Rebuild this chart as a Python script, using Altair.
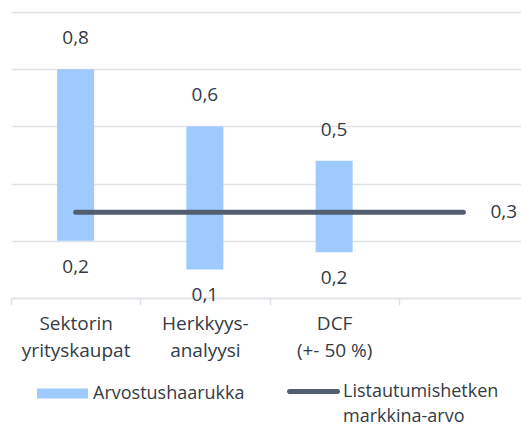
import altair as alt
import pandas as pd

categories = ["Sektorin\nyrityskaupat", "Herkkyys-\nanalyysi", "DCF\n(+- 50 %)", " "]
range_low = [0.2, 0.1, 0.16]
range_high = [0.8, 0.6, 0.48]
market_value = [0.3, 0.3, 0.3, 0.3]
bar_series = "Arvostushaarukka"
line_series = "Listautumishetken\nmarkkina-arvo"
y_ticks = [0, 0.2, 0.4, 0.6, 0.8, 1.0]

FONT = "Open Sans"
FS = 19
LFS = 18
TEXT = "#343b45"
BLUE = "#9ecaff"
SLATE = "#535f71"
GRID = "#dfe3e8"


def fi(v):
    return f"{v:.1f}".replace(".", ",")


bars = pd.DataFrame({"cat": categories[:3], "low": range_low, "high": range_high, "series": bar_series})
bars["low_label"] = bars["low"].map(fi)
bars["high_label"] = bars["high"].map(fi)
line = pd.DataFrame({"cat": categories, "value": market_value, "series": line_series})
line_end = line.iloc[[-1]].copy()
line_end["label"] = line_end["value"].map(fi)

x = alt.X(
    "cat:N",
    sort=categories,
    scale=alt.Scale(domain=categories, paddingInner=0, paddingOuter=0),
    axis=alt.Axis(
        title=None, labelAngle=0, tickBand="extent", grid=False,
        domainColor=GRID, domainWidth=1.5, tickColor=GRID, tickWidth=1.5, tickSize=7,
        labelFont=FONT, labelFontSize=FS, labelColor=TEXT, labelLineHeight=27,
        labelPadding=9, labelBaseline="top",
        labelExpr="split(datum.label, '\\n')",
    ),
)
y_scale = alt.Scale(domain=[0, 1])
y_axis = alt.Axis(title=None, values=y_ticks, labels=False, ticks=False, domain=False,
                  grid=True, gridColor=GRID, gridWidth=1.5)

bar_layer = alt.Chart(bars).mark_bar(width=37).encode(
    x=x,
    y=alt.Y("low:Q", scale=y_scale, axis=y_axis),
    y2="high:Q",
    fill=alt.Fill("series:N", scale=alt.Scale(domain=[bar_series], range=[BLUE]),
                  legend=alt.Legend(title=None, orient="none", legendX=26, legendY=356,
                                    symbolType="M-1,-0.2H1V0.2H-1Z", symbolSize=2601,
                                    symbolStrokeWidth=0, labelFont=FONT, labelFontSize=LFS,
                                    labelColor=TEXT, labelOffset=5, padding=0)),
)

top_text = alt.Chart(bars).mark_text(dy=-31, baseline="middle", font=FONT, fontSize=FS, color=TEXT).encode(
    x=alt.X("cat:N", sort=categories), y=alt.Y("high:Q"), text="high_label:N")
bottom_text = alt.Chart(bars).mark_text(dy=26, baseline="middle", font=FONT, fontSize=FS, color=TEXT).encode(
    x=alt.X("cat:N", sort=categories), y=alt.Y("low:Q"), text="low_label:N")

line_layer = alt.Chart(line).mark_line(strokeWidth=5, strokeCap="round").encode(
    x=alt.X("cat:N", sort=categories),
    y=alt.Y("value:Q"),
    stroke=alt.Stroke("series:N", scale=alt.Scale(domain=[line_series], range=[SLATE]),
                      legend=alt.Legend(title=None, orient="none", legendX=276, legendY=353,
                                        symbolType="M-0.906,-0.094H0.906A0.094,0.094 0 0 1 0.906,0.094H-0.906A0.094,0.094 0 0 1 -0.906,-0.094Z",
                                        symbolSize=2809, symbolStrokeWidth=0,
                                        symbolFillColor=SLATE,
                                        labelFont=FONT, labelFontSize=LFS, labelColor=TEXT,
                                        labelOffset=3, padding=0, labelLimit=400,
                                        labelExpr="split(datum.label, '\\n')")),
)
line_text = alt.Chart(line_end).mark_text(align="left", dx=27, baseline="middle", font=FONT, fontSize=FS, color=TEXT).encode(
    x=alt.X("cat:N", sort=categories), y=alt.Y("value:Q"), text="label:N")

chart = alt.layer(bar_layer, line_layer, top_text, bottom_text, line_text).properties(
    width=517, height=286,
    autosize=alt.AutoSizeParams(type="none"),
    padding={"left": 3, "top": 4, "right": -7, "bottom": 132},
).configure(style={"guide-label": {"lineHeight": 25}}).configure_view(stroke=None)

chart.save("out.html", embed_options={"renderer": "svg", "actions": False})
